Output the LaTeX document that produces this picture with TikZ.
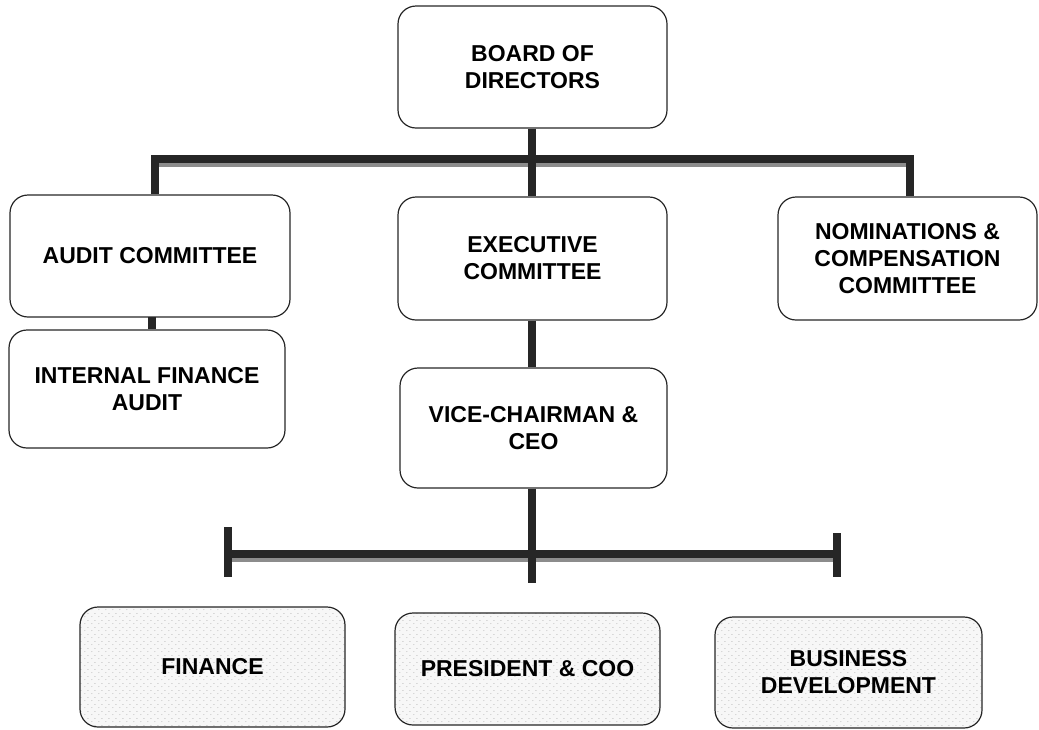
\documentclass[tikz,border=0pt]{standalone}
\usepackage{fontspec}
\setmainfont{Liberation Sans}
\usetikzlibrary{patterns}

% sparse stipple used inside the lower row of boxes
\pgfdeclarepatternformonly{stipple}{\pgfpointorigin}{\pgfpoint{7pt}{7pt}}{\pgfpoint{7pt}{7pt}}{%
  \pgfpathcircle{\pgfpoint{1pt}{1.5pt}}{0.45pt}%
  \pgfpathcircle{\pgfpoint{4.5pt}{5pt}}{0.45pt}%
  \pgfusepath{fill}}

\begin{document}
\begin{tikzpicture}[x=1pt,y=-1pt,
  box/.style={draw=black!85,line width=1.2pt,rounded corners=18pt,align=center,
    font=\fontsize{23}{27}\selectfont\bfseries,inner sep=0pt},
  unitbox/.style={box,preaction={fill=black!3},pattern=stipple,pattern color=black!45},
  bar/.style={draw=black!85,line width=7.5pt,line join=miter,line cap=butt},
  barshade/.style={draw=black!45,line width=5pt,line cap=butt}]

\useasboundingbox (0,0) rectangle (1039,729);

% governance boxes
\node[box,minimum width=269pt,minimum height=122pt] (board) at (532.5,67) {BOARD OF\\DIRECTORS};
\node[box,minimum width=280pt,minimum height=122pt] (audit) at (150,256) {AUDIT COMMITTEE};
\node[box,minimum width=276pt,minimum height=118pt] (ifa) at (147,389) {INTERNAL FINANCE\\AUDIT};
\node[box,minimum width=269pt,minimum height=123pt] (exec) at (532.5,258.5) {EXECUTIVE\\COMMITTEE};
\node[box,minimum width=259pt,minimum height=123pt] (nom) at (907.5,258.5) {NOMINATIONS \&\\COMPENSATION\\COMMITTEE};
\node[box,minimum width=267pt,minimum height=120pt] (ceo) at (533.5,428) {VICE-CHAIRMAN \&\\CEO};

% operating units
\node[unitbox,minimum width=265pt,minimum height=120pt] (fin) at (212.5,667) {FINANCE};
\node[unitbox,minimum width=265pt,minimum height=112pt] (pres) at (527.5,669) {PRESIDENT \& COO};
\node[unitbox,minimum width=267pt,minimum height=111pt] (bd) at (848.5,672.5) {BUSINESS\\DEVELOPMENT};

% upper bus
\coordinate (busL) at (155,159);
\coordinate (busM) at (532,159);
\coordinate (busR) at (910,159);
\draw[barshade] (155,164) -- (910,164);
\draw[bar] (busL |- audit.north) -- (busL) -- (busR) -- (busR |- nom.north);
\draw[bar] (busM |- board.south) -- (busM |- exec.north);

% single links
\draw[bar] (152,317) coordinate (auL) -- (auL |- ifa.north);
\draw[bar] (busM |- exec.south) -- (busM |- ceo.north);

% lower bus
\coordinate (lowL) at (228,554);
\coordinate (lowR) at (837,554);
\coordinate (lowEnd) at (532,583);
\coordinate (tickLa) at (228,527);
\coordinate (tickLb) at (228,577);
\coordinate (tickRa) at (837,533);
\coordinate (tickRb) at (837,577);
\draw[barshade] (228,559) -- (837,559);
\draw[bar] (lowL) -- (lowR);
\draw[bar] (tickLa) -- (tickLb);
\draw[bar] (tickRa) -- (tickRb);
\draw[bar] (lowEnd |- ceo.south) -- (lowEnd);
\end{tikzpicture}
\end{document}
